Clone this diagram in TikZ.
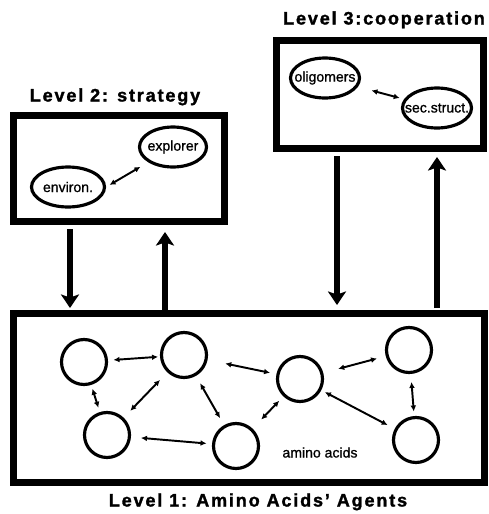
\documentclass[tikz,border=0pt]{standalone}
\usepackage{fontspec}
\setmainfont{Liberation Sans}
\newfontfamily\lvlfont[LetterSpace=10,FakeBold=1.5]{Liberation Sans}
\newfontfamily\tagfont[FakeBold=1]{Liberation Sans}
\usetikzlibrary{arrows.meta,shapes.geometric,calc}
\tikzset{frame/.style={draw,line width=4pt,inner sep=0pt}, agent/.style={circle,draw,line width=1.8pt,minimum size=0.9cm,inner sep=0pt},blob/.style={ellipse,draw,line width=1.8pt,inner xsep=-5mm,inner ysep=0pt,minimum height=0.8cm,font=\tagfont\fontsize{8}{9}\selectfont},lvl/.style={anchor=base,font=\lvlfont\bfseries\fontsize{10.3}{12}\selectfont},flow/.style={-{Stealth[length=0.27cm,width=0.36cm,inset=0.06cm]},line width=3.4pt},link/.style 2 args={{Latex[length=1.2mm,width=1.15mm]}-{Latex[length=1.2mm,width=1.15mm]},line width=1.1pt,shorten <=#1cm,shorten >=#2cm}}

\begin{document}
\begin{tikzpicture}[x=0.02cm,y=-0.02cm]
\useasboundingbox (0,0) rectangle (489,514);
\node[frame,minimum width=9.42cm,minimum height=3.38cm](l1)at(249,398){};\node[frame,minimum width=4.22cm,minimum height=2.12cm](l2)at(119,168.5){};\node[frame,minimum width=4.14cm,minimum height=2.16cm](l3)at(380,94.5){};
\node[lvl](t1)at(258,506.5){Level 1: Amino Acids’ Agents};\node[lvl](t2)at(115,101.5){Level 2: strategy};\node[lvl](t3)at(384,24.5){Level 3:cooperation};
% level 2 and level 3 contents
\node[blob,minimum width=1.46cm](env)at(68,187){environ.};\node[blob,minimum width=1.34cm](exp)at(173,147){explorer};
\node[blob,minimum width=1.38cm](olig)at(325,78){oligomers};\node[blob,minimum width=1.38cm](sec)at(437,108){sec.struct.};
\draw[link={.08}{.18}](env.east)--(exp.south west);\draw[link={.28}{.09}](olig)--(sec);
% amino acids
\node[agent](c1)at(84,362){};\node[agent](c2)at(184,355){};\node[agent](c3)at(107,435){};\node[agent](c4)at(236,446){};
\node[agent](c5)at(300,379){};\node[agent](c6)at(409,350){};\node[agent](c7)at(416,440){};
\node[anchor=base,font=\tagfont\fontsize{8}{9}\selectfont](aa)at(320,457.5){amino acids};
\draw[link={.11}{.04}](c1)--(c2);\draw[link={.08}{.09}](c1)--(c3);\draw[link={.21}{.19}](c2)--(c3);\draw[link={.17}{.16}](c2)--(c4);\draw[link={.2}{.11}](c3)--(c4);
\draw[link={.36}{.13}](c2)--(c5);\draw[link={.12}{.25}](c5)--(c4);\draw[link={.31}{.18}](c5)--(c6);\draw[link={.08}{.16}](c5)--(c7);\draw[link={.16}{.09}](c6)--(c7);
% between levels
\coordinate(a2d)at($(l2.south)+(-49,0)$);\coordinate(a2u)at($(l2.south)+(46,0)$);\coordinate(a3d)at($(l3.south)+(-43,0)$);\coordinate(a3u)at($(l3.south)+(57,0)$);
\draw[flow,shorten <=0.08cm,shorten >=0.04cm](a2d)--(a2d|-l1.north);\draw[flow,shorten >=0.14cm](a2u|-l1.north)--(a2u);
\draw[flow,shorten <=0.08cm,shorten >=0.1cm](a3d)--(a3d|-l1.north);\draw[flow,shorten <=0.04cm,shorten >=0.1cm](a3u|-l1.north)--(a3u);
\end{tikzpicture}
\end{document}
